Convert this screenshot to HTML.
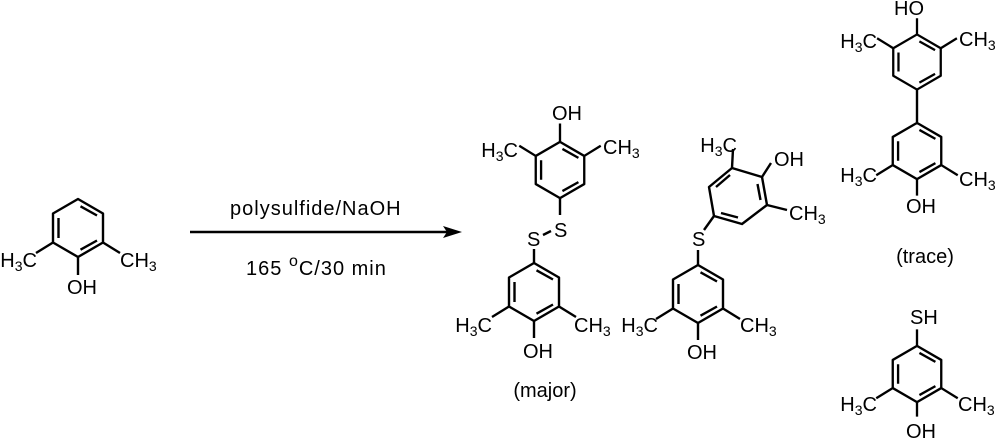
<!DOCTYPE html>
<html><head><meta charset="utf-8"><style>
html,body{margin:0;padding:0;background:#fff;}
svg{display:block;}
text{font-family:"Liberation Sans",Arial,sans-serif;font-size:20px;fill:#000;}
</style></head><body>
<svg width="1000" height="439" viewBox="0 0 1000 439" xmlns="http://www.w3.org/2000/svg">
<defs>
<g id="ring" fill="none" stroke="#000" stroke-width="2.4" stroke-linejoin="round">
<path d="M0,-29 L25,-14.5 L25,14.5 L0,29 L-25,14.5 L-25,-14.5 Z"/>
<path d="M-19.5,-10 L-19.5,10 M2.5,-21.7 L19,-12.5 M19,12.5 L2.5,21.7"/>
</g>
</defs>
<g stroke="#000" stroke-width="2.4" fill="none">
<g transform="translate(78,228)"><use href="#ring"/><path d="M0,29 L0,47 M-25,14.5 L-42,25 M25,14.5 L42,25"/></g>
<g transform="translate(560,170) scale(1,-1) scale(0.97)"><use href="#ring"/><path d="M0,29 L0,48 M-25,14.5 L-42,25 M25,14.5 L42,25"/></g>
<path d="M560,198 L560,215 M543,235 L551,231 M534,249 L534,263"/>
<g transform="translate(534,292)"><use href="#ring"/><path d="M0,29 L0,46 M-25,14.5 L-42,25 M25,14.5 L42,25"/></g>
<path d="M732,168 L762,177 L767,205 L742,224 L714,216 L709,187 Z" stroke-linejoin="round"/>
<path d="M730,175 L716,187 M757.5,184 L760.5,200 M738,217.5 L721,213"/>
<path d="M732,168 L733,149 M762,177 L771,163 M767,205 L787,210 M714,216 L704,230 M698,250 L698,265"/>
<g transform="translate(698,294)"><use href="#ring"/><path d="M0,29 L0,46 M-25,14.5 L-42,25 M25,14.5 L42,25"/></g>
<g transform="translate(917,62) scale(1,-1) scale(0.95)"><use href="#ring"/><path d="M0,29 L0,46 M-25,14.5 L-42,25 M25,14.5 L42,25"/></g>
<path d="M917,90 L917,122"/>
<g transform="translate(917,151) scale(0.97)"><use href="#ring"/><path d="M0,29 L0,46 M-25,14.5 L-42,25 M25,14.5 L42,25"/></g>
<g transform="translate(917,374) scale(0.97)"><use href="#ring"/><path d="M0,29 L0,44 M-25,14.5 L-42,25 M25,14.5 L42,25 M0,-29 L0,-46"/></g>
<path d="M190,232 L450,232"/>
</g>
<path d="M462,232 L443,226 L447,232 L443,238 Z" fill="#000"/>

<text x="230" y="215" font-size="22" letter-spacing="1">polysulfide/NaOH</text>
<text x="246" y="275" font-size="22" letter-spacing="1">165 <tspan dy="-9" font-size="16">o</tspan><tspan dy="9">C/30 min</tspan></text>

<text x="37" y="267" text-anchor="end">H<tspan font-size="14" dy="4">3</tspan><tspan dy="-4">C</tspan></text>
<text x="120" y="267">CH<tspan font-size="14" dy="4">3</tspan></text>
<text x="67" y="294">OH</text>

<text x="552" y="120">OH</text>
<text x="518" y="157" text-anchor="end">H<tspan font-size="14" dy="4">3</tspan><tspan dy="-4">C</tspan></text>
<text x="603" y="154">CH<tspan font-size="14" dy="4">3</tspan></text>
<text x="554" y="237">S</text>
<text x="527" y="246">S</text>
<text x="492" y="332" text-anchor="end">H<tspan font-size="14" dy="4">3</tspan><tspan dy="-4">C</tspan></text>
<text x="574" y="332">CH<tspan font-size="14" dy="4">3</tspan></text>
<text x="523" y="358">OH</text>
<text x="545" y="397" text-anchor="middle" font-size="21">(major)</text>

<text x="737" y="152" text-anchor="end">H<tspan font-size="14" dy="4">3</tspan><tspan dy="-4">C</tspan></text>
<text x="774" y="166">OH</text>
<text x="789" y="220">CH<tspan font-size="14" dy="4">3</tspan></text>
<text x="692" y="246">S</text>
<text x="658" y="332" text-anchor="end">H<tspan font-size="14" dy="4">3</tspan><tspan dy="-4">C</tspan></text>
<text x="740" y="332">CH<tspan font-size="14" dy="4">3</tspan></text>
<text x="687" y="359">OH</text>

<text x="894" y="15">HO</text>
<text x="877" y="48" text-anchor="end">H<tspan font-size="14" dy="4">3</tspan><tspan dy="-4">C</tspan></text>
<text x="959" y="46">CH<tspan font-size="14" dy="4">3</tspan></text>
<text x="877" y="182" text-anchor="end">H<tspan font-size="14" dy="4">3</tspan><tspan dy="-4">C</tspan></text>
<text x="959" y="186">CH<tspan font-size="14" dy="4">3</tspan></text>
<text x="906" y="213">OH</text>
<text x="925" y="263" text-anchor="middle" font-size="21">(trace)</text>

<text x="910" y="324">SH</text>
<text x="877" y="411" text-anchor="end">H<tspan font-size="14" dy="4">3</tspan><tspan dy="-4">C</tspan></text>
<text x="958" y="411">CH<tspan font-size="14" dy="4">3</tspan></text>
<text x="906" y="438">OH</text>
</svg>
</body></html>
